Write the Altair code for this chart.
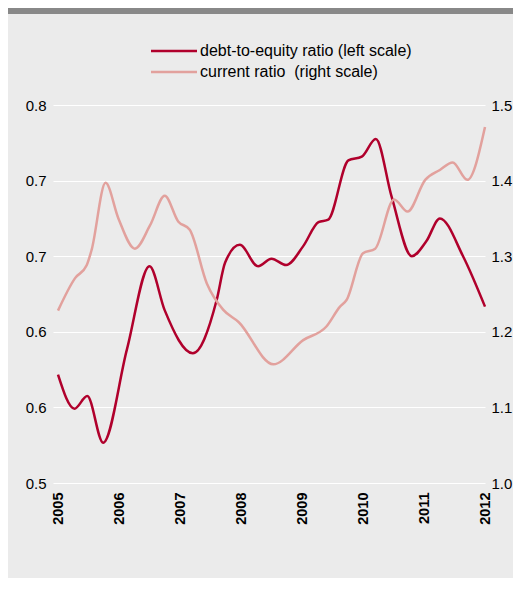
import altair as alt
import pandas as pd

# ---- data ----
debt_years = [2005.00, 2005.27, 2005.48, 2005.74, 2006.13, 2006.50, 2006.75, 2007.21,
              2007.60, 2007.74, 2007.98, 2008.28, 2008.50, 2008.74, 2009.02, 2009.27,
              2009.43, 2009.76, 2009.98, 2010.21, 2010.47, 2010.80, 2011.04, 2011.26,
              2011.64, 2012.00]
debt_vals = [0.586, 0.559, 0.569, 0.532, 0.606, 0.672, 0.637, 0.603,
             0.645, 0.675, 0.689, 0.672, 0.678, 0.673, 0.688, 0.707,
             0.709, 0.756, 0.759, 0.773, 0.727, 0.680, 0.692, 0.710,
             0.680, 0.640]

cur_years = [2005.00, 2005.28, 2005.47, 2005.55, 2005.78, 2005.99, 2006.26, 2006.51,
             2006.75, 2006.97, 2007.16, 2007.44, 2007.71, 2007.96, 2008.53, 2009.02,
             2009.40, 2009.62, 2009.73, 2010.00, 2010.20, 2010.51, 2010.73, 2011.02,
             2011.26, 2011.47, 2011.71, 2012.00]
cur_vals = [1.228, 1.271, 1.288, 1.308, 1.397, 1.350, 1.310, 1.341,
            1.380, 1.346, 1.335, 1.264, 1.229, 1.213, 1.157, 1.189,
            1.207, 1.233, 1.242, 1.304, 1.310, 1.375, 1.359, 1.401,
            1.414, 1.424, 1.401, 1.471]

left_ticks = [0.5, 0.56, 0.62, 0.68, 0.74, 0.8]
right_ticks = [1.0, 1.1, 1.2, 1.3, 1.4, 1.5]
year_ticks = [2005, 2006, 2007, 2008, 2009, 2010, 2011, 2012]
series_names = ["debt-to-equity ratio (left scale)", "current ratio \u00a0(right scale)"]
colors = ["#b0002c", "#e2a19d"]

FONT = "Liberation Sans"

debt_df = pd.DataFrame({"year": debt_years, "value": debt_vals})
cur_df = pd.DataFrame({"year": cur_years, "value": cur_vals})

x_enc = alt.X(
    "year:Q",
    scale=alt.Scale(domain=[2004.918, 2012], nice=False, zero=False),
    axis=alt.Axis(values=year_ticks, format="d", labelAngle=-90, labelFontWeight="bold",
                  labelFontSize=14.5, labelFont=FONT, labelColor="black", labelPadding=9,
                  ticks=False, domain=False, grid=False, title=None),
)

debt = alt.Chart(debt_df).mark_line(interpolate="monotone", strokeWidth=2.5, color=colors[0]).encode(
    x=x_enc,
    y=alt.Y("value:Q",
            scale=alt.Scale(domain=[0.5, 0.8], nice=False, zero=False),
            axis=alt.Axis(orient="left", values=left_ticks, format=".1f", grid=True,
                          gridColor="white", gridWidth=1.2, ticks=False, domain=False,
                          labelFontSize=15, labelFont=FONT, labelColor="black",
                          labelPadding=7, title=None)),
)

cur = alt.Chart(cur_df).mark_line(interpolate="monotone", strokeWidth=2.5, color=colors[1]).encode(
    x=x_enc,
    y=alt.Y("value:Q",
            scale=alt.Scale(domain=[1.0, 1.5], nice=False, zero=False),
            axis=alt.Axis(orient="right", values=right_ticks, format=".1f", grid=False,
                          ticks=False, domain=False, labelFontSize=15, labelFont=FONT,
                          labelColor="black", labelPadding=6, title=None)),
)

one = pd.DataFrame({"a": [0]})
top_bar = alt.Chart(one).mark_rect(color="#888888").encode(
    x=alt.value(-45), x2=alt.value(460), y=alt.value(-97), y2=alt.value(-91)
)

legend_layers = []
for i, (name, col) in enumerate(zip(series_names, colors)):
    ypix = -54 + 21 * i
    legend_layers.append(
        alt.Chart(one).mark_rule(color=col, strokeWidth=2.5).encode(
            x=alt.value(98), x2=alt.value(144), y=alt.value(ypix))
    )
    legend_layers.append(
        alt.Chart(one).mark_text(align="left", baseline="middle", fontSize=16, font=FONT,
                                 color="black").encode(
            x=alt.value(147), y=alt.value(ypix), text=alt.value(name))
    )

chart = alt.layer(debt, cur, top_bar, *legend_layers).resolve_scale(y="independent").properties(
    width=432, height=378,
    autosize=alt.AutoSizeParams(type="none"),
    padding={"left": 45, "top": 97, "right": 28, "bottom": 95},
    background="#ebebeb",
).configure_view(stroke=None)

chart.save("out.html", embed_options={"renderer": "svg", "actions": False})
